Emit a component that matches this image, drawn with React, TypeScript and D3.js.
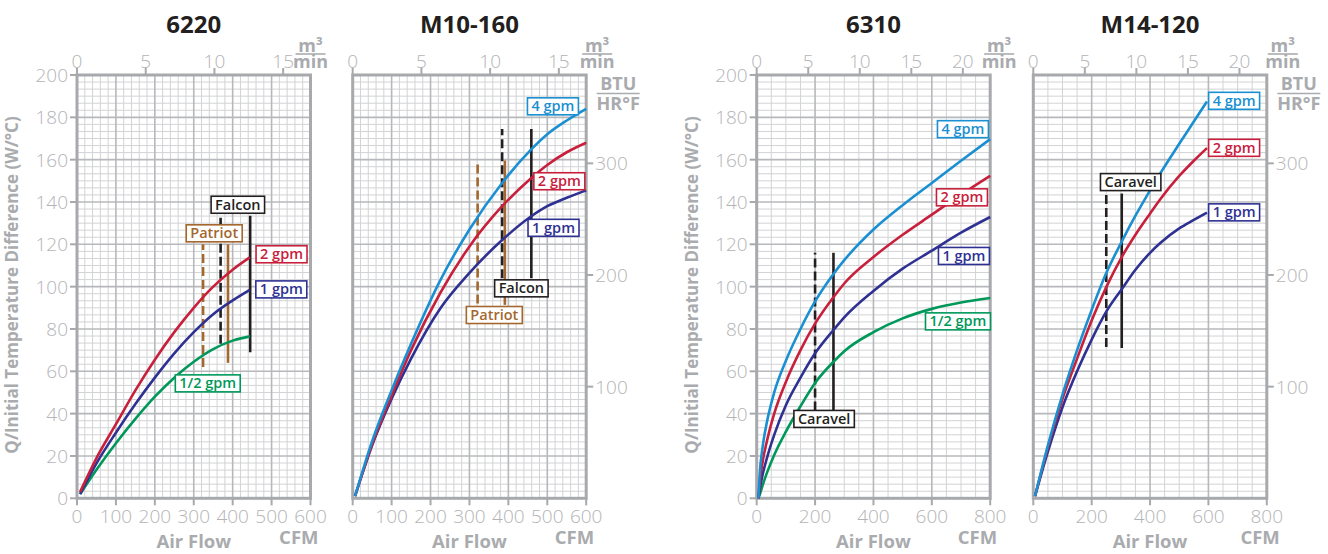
import React from 'react';
import * as d3 from 'd3';

// ---------- units ----------
const CFM_PER_M3MIN = 35.3147;
const BTU_PER_W = 1.8956; // (BTU/hr°F) per (W/°C)

// ---------- axis tick values ----------
const panelTitles = ['6220', 'M10-160', '6310', 'M14-120'];
const cfmMax = [600, 600, 800, 800];
const cfmTicks600 = [0, 100, 200, 300, 400, 500, 600];
const cfmTicks800 = [0, 200, 400, 600, 800];
const m3Ticks15 = [0, 5, 10, 15];
const m3Ticks20 = [0, 5, 10, 15, 20];
const wTicks = [0, 20, 40, 60, 80, 100, 120, 140, 160, 180, 200];
const btuTicks = [100, 200, 300];

// ---------- 6220 ----------
const cfm6220 = [8, 50, 100, 150, 200, 250, 300, 350, 400, 444];
const q6220_2gpm = [3, 19, 35, 51, 65.5, 78.5, 90, 100, 108, 113.8];
const q6220_1gpm = [2, 16.5, 31, 44.5, 57, 68.5, 78.5, 87, 93.5, 98.5];
const q6220_halfgpm = [2, 13.5, 26, 37.5, 48, 57, 64.5, 70.5, 74.5, 76.5];

// ---------- M10-160 ----------
const cfmM10 = [6, 50, 100, 150, 225, 300, 384, 457, 500, 550, 600];
const qM10_4gpm = [1, 27, 51, 73, 103, 127, 149, 164.5, 172, 178.5, 184];
const qM10_2gpm = [1, 25.5, 48.5, 70, 97, 119, 138, 151, 157.5, 163.5, 168];
const qM10_1gpm = [1, 25, 47, 66, 89.7, 106.5, 122, 133, 138, 142, 145.5];

// ---------- 6310 ----------
const cfm6310 = [6, 10, 20, 35, 60, 100, 150, 200, 263, 300, 400, 500, 600, 700, 800];
const q6310_4gpm = [0, 11, 24, 36, 50, 65, 80, 93, 106, 112.5, 127, 138.5, 149, 159.5, 169.7];
const q6310_2gpm = [0, 7, 17, 27, 40, 55, 70, 82.5, 95, 101.5, 114, 124.5, 134, 143.5, 152.4];
const q6310_1gpm = [0, 4, 11, 19, 30, 44, 57, 68.5, 79.5, 85.5, 98, 108.5, 117, 125.5, 132.9];
const q6310_halfgpm = [0, 1.5, 6, 12, 20.5, 31.5, 43.5, 54.5, 64.5, 69.5, 78.5, 85, 89.5, 92.5, 94.6];

// ---------- M14-120 ----------
const cfmM14 = [6, 50, 100, 150, 200, 250, 303, 350, 400, 435, 500, 550, 595];
const qM14_4gpm = [1, 25, 49, 70, 89, 106.4, 121.3, 133.5, 145.5, 153.5, 167.5, 178, 187.5];
const qM14_2gpm = [1, 24, 47, 66, 84, 99.8, 114, 124.5, 134.5, 141.3, 152.3, 159.5, 165.5];
const qM14_1gpm = [1, 22, 43, 60, 75, 88.2, 98.8, 108, 116, 120.6, 127.5, 131.5, 135];

// ---------- vehicle air-flow markers ----------
const mk6220_unit = ['Patriot', 'Patriot', 'Falcon', 'Falcon'];
const mk6220_cfm = [324, 388, 369, 445];
const mk6220_lo = [62, 64, 73, 69];
const mk6220_hi = [120, 120, 133.5, 133.5];
const mk6220_dash = [true, false, true, false];

const mkM10_unit = ['Patriot', 'Patriot', 'Falcon', 'Falcon'];
const mkM10_cfm = [321, 391, 384, 459];
const mkM10_lo = [92, 91.4, 104, 104];
const mkM10_hi = [159.6, 159.6, 174.5, 174.5];
const mkM10_dash = [true, false, true, false];

const mk6310_unit = ['Caravel', 'Caravel'];
const mk6310_cfm = [200, 263];
const mk6310_lo = [41.5, 41.5];
const mk6310_hi = [116, 116];
const mk6310_dash = [true, false];

const mkM14_unit = ['Caravel', 'Caravel'];
const mkM14_cfm = [250, 303];
const mkM14_lo = [71.5, 71];
const mkM14_hi = [144, 144];
const mkM14_dash = [true, false];

// ---------- tag labels (anchored in data units) ----------
const tag6220_text = ['2 gpm', '1 gpm', '1/2 gpm', 'Patriot', 'Falcon'];
const tag6220_cfm = [525.6, 525, 336, 352.6, 413.3];
const tag6220_q = [115.3, 98.7, 54.3, 125.2, 138.7];

const tagM10_text = ['4 gpm', '2 gpm', '1 gpm', 'Falcon', 'Patriot'];
const tagM10_cfm = [514.5, 531, 516, 433.4, 363.9];
const tagM10_q = [185.2, 149.8, 127.8, 99.2, 86.6];

const tag6310_text = ['4 gpm', '2 gpm', '1 gpm', '1/2 gpm', 'Caravel'];
const tag6310_cfm = [706.6, 703.2, 710, 689.5, 231];
const tag6310_q = [174.4, 142.2, 114.5, 83.6, 37.5];

const tagM14_text = ['4 gpm', '2 gpm', '1 gpm', 'Caravel'];
const tagM14_cfm = [688, 688, 688, 333.6];
const tagM14_q = [187.8, 165.6, 135.1, 149.4];

// ---------- styles ----------
const FONT = "'Open Sans', 'Noto Sans', sans-serif";
const GRAY_TXT = '#b3b4b7';
const GRAY_BOLD = '#a9abae';
const BORDER = '#a7a9ac';
const MAJOR = '#b6b8bb';
const MINOR = '#d2d3d5';
const COLORS: Record<string, string> = {
  '4 gpm': '#1a8fd1',
  '2 gpm': '#c8203c',
  '1 gpm': '#2e3192',
  '1/2 gpm': '#00985a',
  Patriot: '#a4672e',
  Falcon: '#231f20',
  Caravel: '#231f20',
};

const TOP = 75;
const BOTTOM = 498.3;
const PW = 233.5;
const panelLeft = [77, 352.7, 756.7, 1033.3];
const m3FracDx = [0, 11, 9, 16];
const cfmDx = [-8, -8, -7, -13];

type Series = { name: string; cfm: number[]; q: number[] };
type Marker = { unit: string; cfm: number; lo: number; hi: number; dash: boolean };
type Tag = { text: string; cfm: number; q: number };

function zipMarkers(u: string[], c: number[], lo: number[], hi: number[], d: boolean[]): Marker[] {
  return u.map((unit, i) => ({ unit, cfm: c[i], lo: lo[i], hi: hi[i], dash: d[i] }));
}
function zipTags(t: string[], c: number[], q: number[]): Tag[] {
  return t.map((text, i) => ({ text, cfm: c[i], q: q[i] }));
}

const panels = [
  {
    series: [
      { name: '1/2 gpm', cfm: cfm6220, q: q6220_halfgpm },
      { name: '1 gpm', cfm: cfm6220, q: q6220_1gpm },
      { name: '2 gpm', cfm: cfm6220, q: q6220_2gpm },
    ] as Series[],
    markers: zipMarkers(mk6220_unit, mk6220_cfm, mk6220_lo, mk6220_hi, mk6220_dash),
    tags: zipTags(tag6220_text, tag6220_cfm, tag6220_q),
    cfmTicks: cfmTicks600, m3Ticks: m3Ticks15, leftAxis: true,
    xMinor: 20, xMajorEvery: 5,
  },
  {
    series: [
      { name: '1 gpm', cfm: cfmM10, q: qM10_1gpm },
      { name: '2 gpm', cfm: cfmM10, q: qM10_2gpm },
      { name: '4 gpm', cfm: cfmM10, q: qM10_4gpm },
    ] as Series[],
    markers: zipMarkers(mkM10_unit, mkM10_cfm, mkM10_lo, mkM10_hi, mkM10_dash),
    tags: zipTags(tagM10_text, tagM10_cfm, tagM10_q),
    cfmTicks: cfmTicks600, m3Ticks: m3Ticks15, leftAxis: false,
    xMinor: 20, xMajorEvery: 5,
  },
  {
    series: [
      { name: '1/2 gpm', cfm: cfm6310, q: q6310_halfgpm },
      { name: '1 gpm', cfm: cfm6310, q: q6310_1gpm },
      { name: '2 gpm', cfm: cfm6310, q: q6310_2gpm },
      { name: '4 gpm', cfm: cfm6310, q: q6310_4gpm },
    ] as Series[],
    markers: zipMarkers(mk6310_unit, mk6310_cfm, mk6310_lo, mk6310_hi, mk6310_dash),
    tags: zipTags(tag6310_text, tag6310_cfm, tag6310_q),
    cfmTicks: cfmTicks800, m3Ticks: m3Ticks20, leftAxis: true,
    xMinor: 50, xMajorEvery: 4,
  },
  {
    series: [
      { name: '1 gpm', cfm: cfmM14, q: qM14_1gpm },
      { name: '2 gpm', cfm: cfmM14, q: qM14_2gpm },
      { name: '4 gpm', cfm: cfmM14, q: qM14_4gpm },
    ] as Series[],
    markers: zipMarkers(mkM14_unit, mkM14_cfm, mkM14_lo, mkM14_hi, mkM14_dash),
    tags: zipTags(tagM14_text, tagM14_cfm, tagM14_q),
    cfmTicks: cfmTicks800, m3Ticks: m3Ticks20, leftAxis: false,
    xMinor: 50, xMajorEvery: 4,
  },
];

const Y_MAJOR = 20;
const Y_SUBDIV = 6;

function TagLabel({ cx, cy, text, color }: { cx: number; cy: number; text: string; color: string }) {
  const ref = React.useRef<SVGTextElement>(null);
  const [w, setW] = React.useState(text.length * 7.5);
  React.useLayoutEffect(() => {
    if (ref.current) setW(ref.current.getComputedTextLength());
  }, [text]);
  const bw = w + 8;
  const bh = 17;
  return (
    <g>
      <rect x={cx - bw / 2} y={cy - bh / 2} width={bw} height={bh} fill="#fff" stroke={color} strokeWidth={1.6} />
      <text ref={ref} x={cx} y={cy + 5} textAnchor="middle" fontSize={14.5} fontWeight={600} fill={color}>
        {text}
      </text>
    </g>
  );
}

function Panel({ p, i }: { p: (typeof panels)[number]; i: number }) {
  const left = panelLeft[i];
  const right = left + PW;
  const max = cfmMax[i];
  const x = d3.scaleLinear().domain([0, max]).range([left, right]);
  const y = d3.scaleLinear().domain([0, 200]).range([BOTTOM, TOP]);
  const xm = d3.scaleLinear().domain([0, max / CFM_PER_M3MIN]).range([left, right]);
  const yb = d3.scaleLinear().domain([0, 200 * BTU_PER_W]).range([BOTTOM, TOP]);

  const line = d3
    .line<[number, number]>()
    .x((d) => x(d[0]))
    .y((d) => y(d[1]))
    .curve(d3.curveMonotoneX);

  const nCols = Math.round(max / p.xMinor);
  const nRows = Math.round((200 / Y_MAJOR) * Y_SUBDIV);
  const cols = d3.range(0, nCols + 1).map((k) => ({ v: k * p.xMinor, major: k % p.xMajorEvery === 0 }));
  const rows = d3.range(0, nRows + 1).map((k) => ({ v: (k * Y_MAJOR) / Y_SUBDIV, major: k % Y_SUBDIV === 0 }));
  const cx = (left + right) / 2;
  const fracX = right + m3FracDx[i];

  return (
    <g>
      {/* title */}
      <text x={cx} y={33} textAnchor="middle" fontSize={24} fontWeight={700} fill="#231f20">
        {panelTitles[i]}
      </text>

      {/* minor grid */}
      {cols.filter((c) => !c.major).map((c) => (
        <line key={'xm' + c.v} x1={x(c.v)} x2={x(c.v)} y1={TOP} y2={BOTTOM} stroke={MINOR} strokeWidth={1} />
      ))}
      {rows.filter((r) => !r.major).map((r) => (
        <line key={'ym' + r.v} x1={left} x2={right} y1={y(r.v)} y2={y(r.v)} stroke={MINOR} strokeWidth={1} />
      ))}
      {/* major grid */}
      {cols.filter((c) => c.major).map((c) => (
        <line key={'xM' + c.v} x1={x(c.v)} x2={x(c.v)} y1={TOP} y2={BOTTOM} stroke={MAJOR} strokeWidth={1.6} />
      ))}
      {rows.filter((r) => r.major).map((r) => (
        <line key={'yM' + r.v} x1={left} x2={right} y1={y(r.v)} y2={y(r.v)} stroke={MAJOR} strokeWidth={1.6} />
      ))}
      <rect x={left} y={TOP} width={PW} height={BOTTOM - TOP} fill="none" stroke={BORDER} strokeWidth={3} />

      {/* bottom axis (CFM) */}
      {p.cfmTicks.map((v) => (
        <g key={'bt' + v}>
          <line x1={x(v)} x2={x(v)} y1={BOTTOM} y2={BOTTOM + 7} stroke={BORDER} strokeWidth={2} />
          <text x={x(v)} y={522.5} textAnchor="middle" fontSize={19} fontWeight={300} fill={GRAY_TXT}>
            {v}
          </text>
        </g>
      ))}
      {/* top axis (m3/min) */}
      {p.m3Ticks.map((v) => (
        <g key={'tt' + v}>
          <line x1={xm(v)} x2={xm(v)} y1={TOP - 7} y2={TOP} stroke={BORDER} strokeWidth={2} />
          <text x={xm(v)} y={67.5} textAnchor="middle" fontSize={19} fontWeight={300} fill={GRAY_TXT}>
            {v}
          </text>
        </g>
      ))}
      <text textAnchor="middle" fontSize={18} fontWeight={700} fill={GRAY_BOLD}>
        <tspan x={fracX} y={52}>m³</tspan>
        <tspan x={fracX} y={68}>min</tspan>
      </text>
      <line x1={fracX - 15} x2={fracX + 15} y1={54} y2={54} stroke={GRAY_BOLD} strokeWidth={1.6} />

      {/* left axis */}
      {p.leftAxis &&
        wTicks.map((v) => (
          <g key={'lt' + v}>
            <line x1={left - 7} x2={left} y1={y(v)} y2={y(v)} stroke={BORDER} strokeWidth={2} />
            <text x={left - 9} y={y(v) + 7} textAnchor="end" fontSize={19} fontWeight={300} fill={GRAY_TXT}>
              {v}
            </text>
          </g>
        ))}
      {p.leftAxis && (
        <text
          transform={`translate(${left - 59},285) rotate(-90)`}
          textAnchor="middle"
          fontSize={17}
          fontWeight={700}
          fill={GRAY_BOLD}
        >
          Q/Initial Temperature Difference (W/°C)
        </text>
      )}

      {/* right axis (BTU/HR°F) */}
      {!p.leftAxis &&
        btuTicks.map((v) => (
          <g key={'rt' + v}>
            <line x1={right} x2={right + 7} y1={yb(v)} y2={yb(v)} stroke={BORDER} strokeWidth={2} />
            <text x={right + 9} y={yb(v) + 7} textAnchor="start" fontSize={19} fontWeight={300} fill={GRAY_TXT}>
              {v}
            </text>
          </g>
        ))}
      {!p.leftAxis && (
        <g>
          <text textAnchor="middle" fontSize={18} fontWeight={700} fill={GRAY_BOLD}>
            <tspan x={right + 32} y={90}>BTU</tspan>
            <tspan x={right + 32} y={110}>HR°F</tspan>
          </text>
          <line x1={right + 10.5} x2={right + 53.5} y1={93.5} y2={93.5} stroke={GRAY_BOLD} strokeWidth={1.6} />
        </g>
      )}

      {/* axis titles */}
      <text x={cx} y={548} textAnchor="middle" fontSize={18.5} fontWeight={700} fill={GRAY_BOLD}>
        Air Flow
      </text>
      <text x={right - cfmDx[i]} y={544} textAnchor="end" fontSize={18.5} fontWeight={700} fill={GRAY_BOLD}>
        CFM
      </text>

      {/* markers */}
      {p.markers.map((m, k) => (
        <line
          key={'mk' + k}
          x1={x(m.cfm)}
          x2={x(m.cfm)}
          y1={y(m.lo)}
          y2={y(m.hi)}
          stroke={COLORS[m.unit]}
          strokeWidth={2.6}
          strokeDasharray={m.dash ? '9,4' : undefined}
        />
      ))}

      {/* curves */}
      {p.series.map((s) => (
        <path
          key={s.name}
          d={line(s.cfm.map((c, k) => [c, s.q[k]] as [number, number])) || ''}
          fill="none"
          stroke={COLORS[s.name]}
          strokeWidth={2.6}
        />
      ))}

      {/* tags */}
      {p.tags.map((t) => (
        <TagLabel key={t.text} cx={x(t.cfm)} cy={y(t.q)} text={t.text} color={COLORS[t.text]} />
      ))}
    </g>
  );
}

export default function App() {
  return (
    <svg
      width={1328}
      height={554}
      style={{ position: 'absolute', left: 0, top: 0, background: '#fff' }}
      fontFamily={FONT}
    >
      {panels.map((p, i) => (
        <Panel key={i} p={p} i={i} />
      ))}
    </svg>
  );
}
